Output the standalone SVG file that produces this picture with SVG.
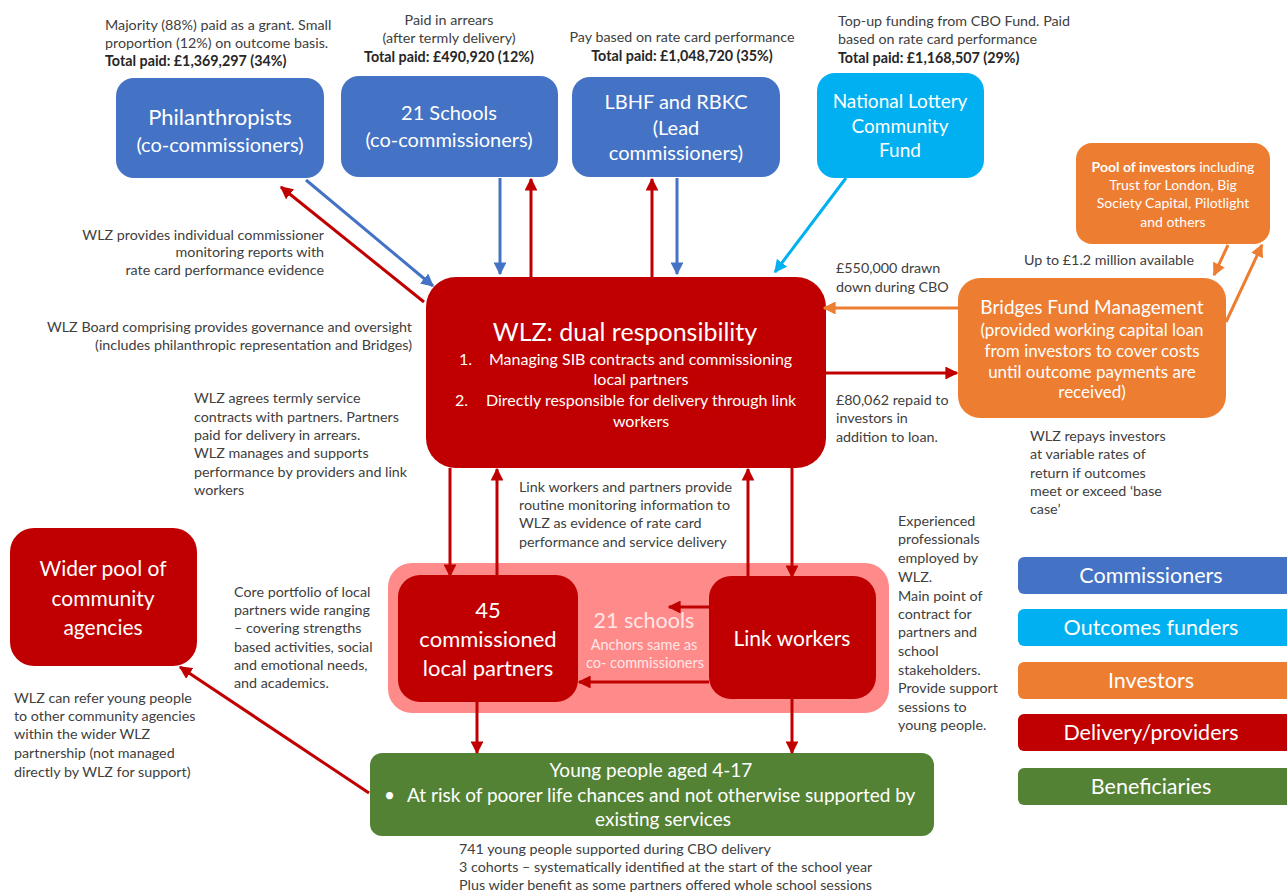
<svg xmlns="http://www.w3.org/2000/svg" width="1287" height="892" viewBox="0 0 1287 892">
<defs>
<style>
text{font-family:Lato,"Liberation Sans",Arial,sans-serif}
.n{fill:#404040;font-size:14.3px}
.nb{fill:#262626;font-size:14.3px;font-weight:bold}
.w{fill:#ffffff}
.c{text-anchor:middle}
.r{text-anchor:end}
.h20{font-size:20px}
.lg{font-size:21.5px}
.ln{fill:none;stroke-width:3}
.red{stroke:#C00000}
.blu{stroke:#4472C4}
.lbl{stroke:#00B0F0}
.org{stroke:#ED7D31}
</style>
<marker id="aR" viewBox="0 0 10 10" refX="9" refY="5" markerWidth="4.3" markerHeight="4.3" orient="auto"><path d="M0,0 L10,5 L0,10 z" fill="#C00000"/></marker>
<marker id="aB" viewBox="0 0 10 10" refX="9" refY="5" markerWidth="4.3" markerHeight="4.3" orient="auto"><path d="M0,0 L10,5 L0,10 z" fill="#4472C4"/></marker>
<marker id="aL" viewBox="0 0 10 10" refX="9" refY="5" markerWidth="4.3" markerHeight="4.3" orient="auto"><path d="M0,0 L10,5 L0,10 z" fill="#00B0F0"/></marker>
<marker id="aO" viewBox="0 0 10 10" refX="9" refY="5" markerWidth="4.3" markerHeight="4.3" orient="auto"><path d="M0,0 L10,5 L0,10 z" fill="#ED7D31"/></marker>
</defs>
<rect width="1287" height="892" fill="#ffffff"/>

<!-- annotations -->
<g id="annotations">
<text class="n" x="105" y="30">Majority (88%) paid as a grant. Small</text>
<text class="n" x="105" y="48">proportion (12%) on outcome basis.</text>
<text class="nb" x="105" y="66">Total paid: £1,369,297 (34%)</text>

<text class="n c" x="449" y="25">Paid in arrears</text>
<text class="n c" x="449" y="43">(after termly delivery)</text>
<text class="nb c" x="449" y="62">Total paid: £490,920 (12%)</text>

<text class="n c" x="682" y="42">Pay based on rate card performance</text>
<text class="nb c" x="682" y="61">Total paid: £1,048,720 (35%)</text>

<text class="n" x="838" y="26">Top-up funding from CBO Fund. Paid</text>
<text class="n" x="838" y="44">based on rate card performance</text>
<text class="nb" x="838" y="63">Total paid: £1,168,507 (29%)</text>

<text class="n" x="1024" y="265">Up to £1.2 million available</text>
<text class="n" x="836" y="273">£550,000 drawn</text>
<text class="n" x="836" y="292">down during CBO</text>
<text class="n" x="836" y="405">£80,062 repaid to</text>
<text class="n" x="836" y="423">investors in</text>
<text class="n" x="836" y="442">addition to loan.</text>

<text class="n" x="1030" y="441">WLZ repays investors</text>
<text class="n" x="1030" y="459">at variable rates of</text>
<text class="n" x="1030" y="478">return if outcomes</text>
<text class="n" x="1030" y="496">meet or exceed ‘base</text>
<text class="n" x="1030" y="514">case’</text>

<text class="n r" x="324" y="240">WLZ provides individual commissioner</text>
<text class="n r" x="324" y="257">monitoring reports with</text>
<text class="n r" x="324" y="275">rate card performance evidence</text>

<text class="n r" x="412" y="332">WLZ Board comprising provides governance and oversight</text>
<text class="n r" x="412" y="350">(includes philanthropic representation and Bridges)</text>

<text class="n" x="194" y="403">WLZ agrees termly service</text>
<text class="n" x="194" y="422">contracts with partners. Partners</text>
<text class="n" x="194" y="440">paid for delivery in arrears.</text>
<text class="n" x="194" y="458">WLZ manages and supports</text>
<text class="n" x="194" y="477">performance by providers and link</text>
<text class="n" x="194" y="495">workers</text>

<text class="n" x="519" y="492">Link workers and partners provide</text>
<text class="n" x="519" y="510">routine monitoring information to</text>
<text class="n" x="519" y="528">WLZ as evidence of rate card</text>
<text class="n" x="519" y="547">performance and service delivery</text>

<text class="n" x="234" y="597">Core portfolio of local</text>
<text class="n" x="234" y="615">partners wide ranging</text>
<text class="n" x="234" y="633">– covering strengths</text>
<text class="n" x="234" y="652">based activities, social</text>
<text class="n" x="234" y="670">and emotional needs,</text>
<text class="n" x="234" y="688">and academics.</text>

<text class="n" x="14" y="703">WLZ can refer young people</text>
<text class="n" x="14" y="721">to other community agencies</text>
<text class="n" x="14" y="739">within the wider WLZ</text>
<text class="n" x="14" y="758">partnership (not managed</text>
<text class="n" x="14" y="777">directly by WLZ for support)</text>

<text class="n" x="898" y="526">Experienced</text>
<text class="n" x="898" y="544">professionals</text>
<text class="n" x="898" y="563">employed by</text>
<text class="n" x="898" y="582">WLZ.</text>
<text class="n" x="898" y="601">Main point of</text>
<text class="n" x="898" y="619">contract for</text>
<text class="n" x="898" y="637">partners and</text>
<text class="n" x="898" y="656">school</text>
<text class="n" x="898" y="675">stakeholders.</text>
<text class="n" x="898" y="693">Provide support</text>
<text class="n" x="898" y="712">sessions to</text>
<text class="n" x="898" y="730">young people.</text>

<text class="n" x="459" y="854">741 young people supported during CBO delivery</text>
<text class="n" x="459" y="872">3 cohorts – systematically identified  at the start of the school year</text>
<text class="n" x="459" y="890">Plus wider benefit as some partners offered whole school sessions</text>
</g>

<!-- nodes -->
<g id="philanthropists">
<rect x="116" y="78" width="208" height="100" rx="18" fill="#4472C4"/>
<text class="w c" font-size="22" x="220" y="125">Philanthropists</text>
<text class="w c h20" x="220" y="152">(co-commissioners)</text>
</g>
<g id="schools21">
<rect x="341" y="76" width="217" height="101" rx="18" fill="#4472C4"/>
<text class="w c h20" x="449" y="120">21 Schools</text>
<text class="w c h20" x="449" y="147">(co-commissioners)</text>
</g>
<g id="lbhf">
<rect x="572" y="77" width="208" height="100" rx="18" fill="#4472C4"/>
<text class="w c h20" x="676" y="109">LBHF and RBKC</text>
<text class="w c h20" x="676" y="135">(Lead</text>
<text class="w c h20" x="676" y="160">commissioners)</text>
</g>
<g id="nlcf">
<rect x="817" y="73" width="167" height="105" rx="18" fill="#00B0F0"/>
<text class="w c" font-size="19" x="900" y="108">National Lottery</text>
<text class="w c" font-size="19" x="900" y="133">Community</text>
<text class="w c" font-size="19" x="900" y="157">Fund</text>
</g>
<g id="pool">
<rect x="1076" y="143" width="194" height="101" rx="16" fill="#ED7D31"/>
<text class="w c" font-size="14" x="1173" y="172"><tspan font-weight="bold">Pool of investors</tspan> including</text>
<text class="w c" font-size="14" x="1173" y="190">Trust for London, Big</text>
<text class="w c" font-size="14" x="1173" y="208">Society Capital, Pilotlight</text>
<text class="w c" font-size="14" x="1173" y="227">and others</text>
</g>
<g id="bridges">
<rect x="958" y="278" width="268" height="140" rx="22" fill="#ED7D31"/>
<text class="w c" font-size="19" x="1092" y="314">Bridges Fund Management</text>
<text class="w c" font-size="17" x="1092" y="336">(provided working capital loan</text>
<text class="w c" font-size="17" x="1092" y="357">from investors to cover costs</text>
<text class="w c" font-size="17" x="1092" y="378">until outcome payments are</text>
<text class="w c" font-size="17" x="1092" y="398">received)</text>
</g>
<g id="wlz">
<rect x="426" y="277" width="400" height="191" rx="30" fill="#C00000"/>
<text class="w c" font-size="25" x="625" y="341">WLZ: dual responsibility</text>
<text class="w" font-size="16" x="459" y="365">1.</text>
<text class="w" font-size="16" x="489" y="365">Managing SIB contracts and commissioning</text>
<text class="w c" font-size="16" x="641" y="385">local partners</text>
<text class="w" font-size="16" x="455" y="406">2.</text>
<text class="w" font-size="16" x="486" y="406">Directly responsible for delivery through link</text>
<text class="w c" font-size="16" x="641" y="427">workers</text>
</g>
<g id="partnership">
<rect x="388" y="563" width="501" height="150" rx="24" fill="#FF8A8A"/>
<text class="c" fill="#FFE6E6" font-size="21.5" x="644" y="628">21 schools</text>
<text class="c" fill="#FFE6E6" font-size="14.5" x="644" y="650">Anchors  same as</text>
<text class="c" fill="#FFE6E6" font-size="14.5" x="645" y="668">co- commissioners</text>
</g>
<g id="partners45">
<rect x="398" y="575" width="180" height="127" rx="22" fill="#C00000"/>
<text class="w c" font-size="22" x="488" y="618">45</text>
<text class="w c" font-size="22" x="488" y="647">commissioned</text>
<text class="w c" font-size="22" x="488" y="676">local partners</text>
</g>
<g id="linkworkers">
<rect x="709" y="576" width="167" height="123" rx="22" fill="#C00000"/>
<text class="w c" font-size="21" x="792" y="646">Link workers</text>
</g>
<g id="widerpool">
<rect x="10" y="528" width="187" height="138" rx="24" fill="#C00000"/>
<text class="w c" font-size="21" x="103" y="576">Wider pool of</text>
<text class="w c" font-size="21" x="103" y="606">community</text>
<text class="w c" font-size="21" x="103" y="635">agencies</text>
</g>
<g id="youngpeople">
<rect x="370" y="753" width="564" height="83" rx="12" fill="#548235"/>
<text class="w c" font-size="19" x="651" y="777">Young people aged 4-17</text>
<text class="w" font-size="19" x="384" y="802">•</text>
<text class="w" font-size="19" x="407" y="802">At risk of poorer life chances and not otherwise supported by</text>
<text class="w c" font-size="19" x="663" y="826">existing services</text>
</g>

<!-- legend -->
<g id="legend-commissioners"><rect x="1018" y="557" width="280" height="37" rx="6" fill="#4472C4"/><text class="w c lg" x="1151" y="583">Commissioners</text></g>
<g id="legend-outcomes"><rect x="1018" y="609" width="280" height="37" rx="6" fill="#00B0F0"/><text class="w c lg" x="1151" y="635">Outcomes funders</text></g>
<g id="legend-investors"><rect x="1018" y="662" width="280" height="37" rx="6" fill="#ED7D31"/><text class="w c lg" x="1151" y="688">Investors</text></g>
<g id="legend-delivery"><rect x="1018" y="714" width="280" height="37" rx="6" fill="#C00000"/><text class="w c lg" x="1151" y="740">Delivery/providers</text></g>
<g id="legend-beneficiaries"><rect x="1018" y="768" width="280" height="37" rx="6" fill="#548235"/><text class="w c lg" x="1151" y="794">Beneficiaries</text></g>

<!-- connectors -->
<g id="connectors">
<line class="ln blu" x1="306" y1="180" x2="433" y2="286" marker-end="url(#aB)"/>
<line class="ln red" x1="424" y1="302" x2="281" y2="187" marker-end="url(#aR)"/>
<line class="ln blu" x1="500" y1="178" x2="500" y2="274" marker-end="url(#aB)"/>
<line class="ln red" x1="531" y1="277" x2="531" y2="179" marker-end="url(#aR)"/>
<line class="ln red" x1="652" y1="277" x2="652" y2="179" marker-end="url(#aR)"/>
<line class="ln blu" x1="677" y1="178" x2="677" y2="274" marker-end="url(#aB)"/>
<line class="ln lbl" x1="846" y1="178" x2="775" y2="272" marker-end="url(#aL)"/>
<line class="ln org" x1="958" y1="308" x2="824" y2="308" marker-end="url(#aO)"/>
<line class="ln red" x1="825" y1="373" x2="957" y2="373" marker-end="url(#aR)"/>
<line class="ln org" x1="1228" y1="245" x2="1214" y2="275" marker-end="url(#aO)"/>
<line class="ln org" x1="1226" y1="322" x2="1262" y2="245" marker-end="url(#aO)"/>
<line class="ln red" x1="450" y1="468" x2="450" y2="576" marker-end="url(#aR)"/>
<line class="ln red" x1="497" y1="576" x2="497" y2="469" marker-end="url(#aR)"/>
<line class="ln red" x1="748" y1="577" x2="748" y2="469" marker-end="url(#aR)"/>
<line class="ln red" x1="792" y1="468" x2="792" y2="577" marker-end="url(#aR)"/>
<line class="ln red" x1="709" y1="607" x2="669" y2="607" marker-end="url(#aR)"/>
<line class="ln red" x1="709" y1="682" x2="579" y2="682" marker-end="url(#aR)"/>
<line class="ln red" x1="477" y1="702" x2="477" y2="753" marker-end="url(#aR)"/>
<line class="ln red" x1="792" y1="699" x2="792" y2="753" marker-end="url(#aR)"/>
<line class="ln red" x1="369" y1="793" x2="180" y2="667" marker-end="url(#aR)"/>
</g>
</svg>
